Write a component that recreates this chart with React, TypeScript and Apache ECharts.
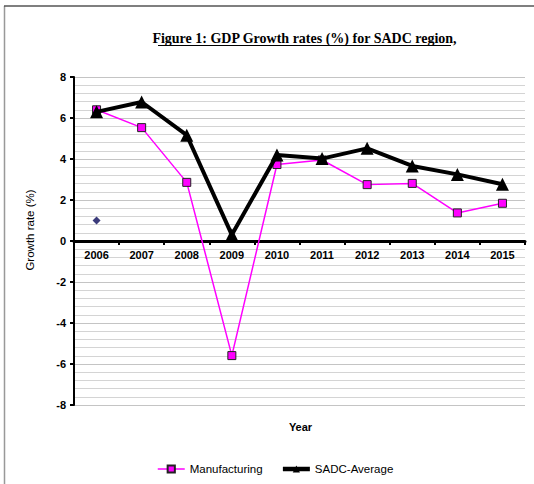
import React, { useEffect, useRef } from "react";
import * as echarts from "echarts";

const years = ["2006", "2007", "2008", "2009", "2010", "2011", "2012", "2013", "2014", "2015"];
const manufacturing = [6.4, 5.53, 2.86, -5.59, 3.73, 3.95, 2.75, 2.81, 1.37, 1.84];
const sadcAverage = [6.3, 6.78, 5.16, 0.3, 4.2, 4.02, 4.52, 3.66, 3.25, 2.77];
const extraPoint = [[0, 1.0]];

const App: React.FC = () => {
  const ref = useRef<HTMLDivElement>(null);
  useEffect(() => {
    if (!ref.current) return;
    const chart = echarts.init(ref.current, undefined, { renderer: "svg" });
    const axisFont = { fontFamily: "Arial, 'Liberation Sans', sans-serif", fontSize: 11, fontWeight: "bold" as const, color: "#000" };
    chart.setOption({
      animation: false,
      backgroundColor: "#fff",
      grid: { left: 74, right: 9, top: 77, bottom: 79, containLabel: false },
      xAxis: {
        type: "category",
        data: years,
        boundaryGap: true,
        position: "bottom",
        offset: -164,
        axisLine: { onZero: false, lineStyle: { color: "#000", width: 3 } },
        axisTick: { show: true, inside: false, length: 4, lineStyle: { color: "#000", width: 2 } },
        axisLabel: { ...axisFont, margin: 8 },
        splitLine: { show: false },
      },
      yAxis: {
        type: "value",
        min: -8,
        max: 8,
        interval: 2,
        axisLine: { show: true, lineStyle: { color: "#000", width: 2 } },
        axisTick: { show: true, length: 4, lineStyle: { color: "#000", width: 2 } },
        axisLabel: { ...axisFont, margin: 8 },
        splitLine: { show: true, lineStyle: { color: "#c4c4c4", width: 1 } },
        minorTick: { show: false, splitNumber: 5 },
        minorSplitLine: { show: true, lineStyle: { color: "#d4d4d4", width: 1 } },
      },
      legend: {
        data: [
          { name: "Manufacturing", lineStyle: { width: 1.5 } },
          { name: "SADC-Average", lineStyle: { width: 4.5 } },
        ],
        left: 157,
        top: 463,
        padding: 0,
        itemWidth: 27,
        itemHeight: 9,
        itemGap: 18,
        textStyle: { fontFamily: "Arial, 'Liberation Sans', sans-serif", fontSize: 11.5, color: "#000" },
      },
      series: [
        {
          name: "Manufacturing",
          type: "line",
          data: manufacturing,
          symbol: "rect",
          symbolSize: 8,
          lineStyle: { color: "#ff00ff", width: 1.5 },
          itemStyle: { color: "#ff00ff", borderColor: "#222", borderWidth: 1 },
          z: 3,
        },
        {
          name: "SADC-Average",
          type: "line",
          data: sadcAverage,
          symbol: "triangle",
          symbolSize: 13,
          lineStyle: { color: "#000", width: 4 },
          itemStyle: { color: "#000" },
          z: 4,
        },
        {
          name: "point",
          type: "scatter",
          data: extraPoint,
          symbol: "diamond",
          symbolSize: 8,
          itemStyle: { color: "#0a0a5a" },
          z: 5,
        },
      ],
      graphic: [
        { type: "line", shape: { x1: 4.5, y1: 6, x2: 4.5, y2: 484 }, style: { stroke: "#999", lineWidth: 1.5 } },
        { type: "line", shape: { x1: 4, y1: 6, x2: 534, y2: 6 }, style: { stroke: "#555", lineWidth: 1.5 } },
        {
          type: "text",
          x: 304.5,
          y: 38,
          style: {
            text: "Figure 1: GDP Growth rates (%) for SADC region,",
            font: "bold 14px 'Times New Roman', 'Liberation Serif', serif",
            fill: "#000",
            align: "center",
            verticalAlign: "middle",
          },
        },
        { type: "line", shape: { x1: 158, y1: 45.5, x2: 451, y2: 45.5 }, style: { stroke: "#000", lineWidth: 1 } },
        {
          type: "text",
          x: 30,
          y: 230,
          rotation: Math.PI / 2,
          style: {
            text: "Growth rate (%)",
            font: "11.5px Arial, 'Liberation Sans', sans-serif",
            fill: "#000",
            align: "center",
            verticalAlign: "middle",
          },
        },
        {
          type: "text",
          x: 300.5,
          y: 427,
          style: {
            text: "Year",
            font: "bold 11px Arial, 'Liberation Sans', sans-serif",
            fill: "#000",
            align: "center",
            verticalAlign: "middle",
          },
        },
      ],
    });
    return () => chart.dispose();
  }, []);
  return <div ref={ref} style={{ width: 534, height: 484, position: "absolute", left: 0, top: 0 }} />;
};

export default App;
